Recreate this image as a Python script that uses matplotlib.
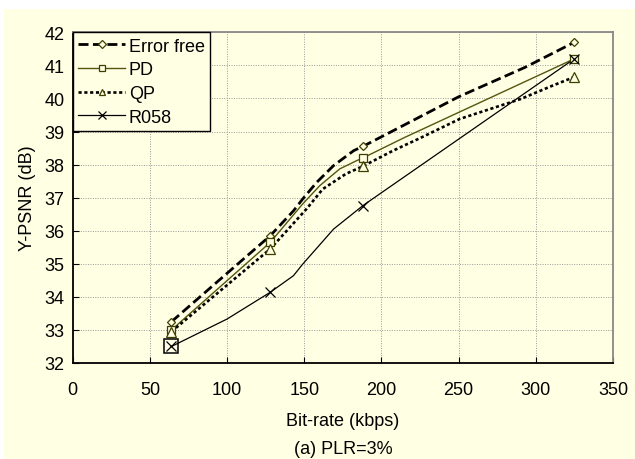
import matplotlib
matplotlib.use("Agg")
import matplotlib.pyplot as plt
from matplotlib.patches import Rectangle

plt.rcParams["font.family"] = ["Liberation Sans", "DejaVu Sans"]

# ---- data ----
rates = [64, 128, 188, 325]            # marker positions (kbps)
err_free = [33.25, 35.85, 38.55, 41.7]
pd_vals = [33.0, 35.65, 38.2, 41.2]
qp_vals = [32.95, 35.45, 37.95, 40.65]
r058_vals = [32.5, 34.14, 36.76, 41.2]

# line vertices (the drawn curves have extra bends between markers)
err_free_cx = [64, 128, 143, 149, 158, 169, 182, 188, 250, 293, 325]
err_free_cy = [33.25, 35.85, 36.6, 36.96, 37.46, 37.97, 38.42, 38.55, 40.05, 40.94, 41.7]
pd_cx = [64, 128, 149, 160, 173, 184, 188, 215, 325]
pd_cy = [33.0, 35.65, 36.81, 37.36, 37.87, 38.12, 38.2, 38.82, 41.2]
qp_cx = [64, 128, 151.5, 162, 177, 188, 207.5, 225, 250.7, 290, 311, 325]
qp_cy = [32.95, 35.45, 36.66, 37.26, 37.72, 37.95, 38.42, 38.8, 39.38, 39.98, 40.39, 40.65]
r058_cx = [64, 100, 128, 143, 149, 169, 188, 325]
r058_cy = [32.5, 33.33, 34.14, 34.64, 34.99, 36.05, 36.76, 41.2]

labels = ["Error free", "PD", "QP", "R058"]
xticks = [0, 50, 100, 150, 200, 250, 300, 350]
yticks = [32, 33, 34, 35, 36, 37, 38, 39, 40, 41, 42]

BG = "#FFFFE3"
OLIVE = "#3F3F00"
PDC = "#55550F"
FS = 13

fig = plt.figure(figsize=(6.35, 4.6), dpi=100)
fig.patch.set_facecolor("white")
fig.patches.append(Rectangle((4 / 635, 0), 1 - 4 / 635, 1 - 10 / 460,
                             transform=fig.transFigure, facecolor=BG,
                             edgecolor="none", zorder=-10))

ax = fig.add_axes([72.7 / 635, 1 - 364 / 460, (613 - 72.7) / 635, (364 - 33.3) / 460])
ax.set_facecolor(BG)

# curves
ax.plot(err_free_cx, err_free_cy, color="black", lw=2.0, linestyle=(0, (3.6, 1.6)),
        zorder=3)
ax.plot(pd_cx, pd_cy, color=PDC, lw=1.0, zorder=3)
ax.plot(qp_cx, qp_cy, color="black", lw=1.9, linestyle=(0, (1.2, 1.0)), zorder=3)
ax.plot(r058_cx, r058_cy, color="black", lw=0.9, zorder=3)

# markers
ax.plot(rates, err_free, linestyle="none", marker="D", ms=4.5, mfc=BG, mec=OLIVE,
        mew=0.9, zorder=4)
ax.plot(rates, pd_vals, linestyle="none", marker="s", ms=6, mfc=BG, mec=OLIVE,
        mew=0.9, zorder=4)
ax.plot(rates, qp_vals, linestyle="none", marker="^", ms=6.5, mfc=BG, mec=OLIVE,
        mew=0.9, zorder=4)
ax.plot(rates, r058_vals, linestyle="none", marker="x", ms=6.5, mec="black",
        mew=0.9, zorder=5)
# enlarged box marker at the first R058 point
ax.plot(rates[:1], r058_vals[:1], linestyle="none", marker="s", ms=10, mfc="none",
        mec="black", mew=1.1, zorder=5)

# legend proxies
h1, = ax.plot([], [], color="black", lw=2.0, linestyle=(0, (3.6, 1.6)), marker="D",
              ms=4, mfc=BG, mec=OLIVE, mew=0.9)
h2, = ax.plot([], [], color=PDC, lw=1.0, marker="s", ms=5, mfc=BG, mec=OLIVE, mew=0.9)
h3, = ax.plot([], [], color="black", lw=1.9, linestyle=(0, (1.2, 1.0)), marker="^",
              ms=5, mfc=BG, mec=OLIVE, mew=0.9)
h4, = ax.plot([], [], color="black", lw=0.9, marker="x", ms=5.5, mec="black", mew=0.9)
leg = ax.legend([h1, h2, h3, h4], labels, loc="upper left", borderaxespad=0,
                fontsize=FS, frameon=True, fancybox=False, edgecolor="black",
                facecolor=BG, framealpha=1, handlelength=2.6, handletextpad=0.2,
                labelspacing=0.37, borderpad=0.3)
leg.get_frame().set_linewidth(1.0)
leg.set_zorder(10)

ax.set_xlim(0, 350)
ax.set_ylim(32, 42)
ax.set_xticks(xticks)
ax.set_yticks(yticks)
ax.tick_params(direction="in", length=4, labelsize=FS, width=0.8,
               top=False, right=False)
ax.tick_params(axis="x", pad=13)
ax.tick_params(axis="y", pad=6)
ax.grid(True, color="#9a9a9a", linestyle=(0, (1, 1.5)), lw=0.7)
ax.set_axisbelow(True)
for s in ["left", "bottom"]:
    ax.spines[s].set_color("black")
    ax.spines[s].set_linewidth(1.3)
for s in ["top", "right"]:
    ax.spines[s].set_color("#888888")
    ax.spines[s].set_linewidth(1.3)

ax.set_xlabel("Bit-rate (kbps)", fontsize=FS, labelpad=10)
ax.set_ylabel("Y-PSNR (dB)", fontsize=FS, labelpad=6)
fig.text((72.7 + 613) / 2 / 635, 1 - 450 / 460, "(a) PLR=3%", fontsize=FS,
         ha="center", va="center")

fig.savefig("out.png", dpi=100, facecolor=fig.get_facecolor())
